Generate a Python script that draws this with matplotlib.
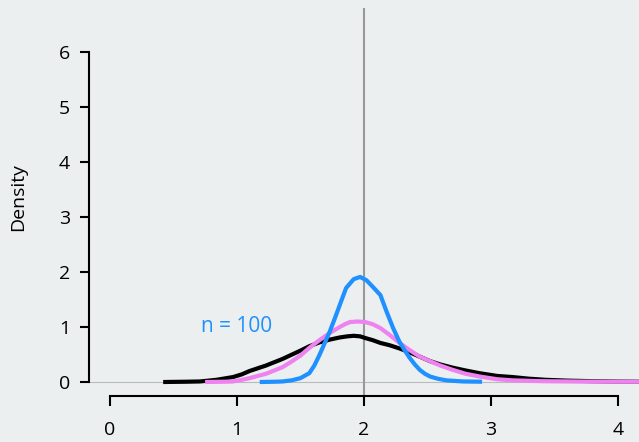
import numpy as np
import matplotlib.pyplot as plt

# densities
black_x = [0.42, 0.60, 0.71, 0.84, 0.97, 1.04, 1.10, 1.23, 1.36, 1.50, 1.57, 1.65, 1.73, 1.81,
           1.87, 1.92, 1.97, 2.01, 2.07, 2.13, 2.20, 2.28, 2.36, 2.44, 2.52, 2.60, 2.70, 2.80,
           2.91, 3.05, 3.17, 3.30, 3.43, 3.60, 3.80, 4.00, 4.17]
black_y = [0.00, 0.005, 0.01, 0.04, 0.09, 0.14, 0.20, 0.30, 0.42, 0.57, 0.65, 0.72, 0.77, 0.81,
           0.83, 0.84, 0.83, 0.80, 0.76, 0.71, 0.67, 0.61, 0.54, 0.46, 0.38, 0.32, 0.26, 0.21,
           0.16, 0.11, 0.09, 0.06, 0.04, 0.025, 0.015, 0.008, 0.005]

pink_x = [0.75, 0.90, 0.97, 1.04, 1.10, 1.23, 1.36, 1.43, 1.50, 1.57, 1.65, 1.73, 1.81, 1.85,
          1.89, 1.95, 2.01, 2.07, 2.13, 2.20, 2.28, 2.36, 2.44, 2.52, 2.60, 2.70, 2.80, 2.91,
          3.05, 3.17, 3.40, 3.70, 4.00, 4.17]
pink_y = [0.00, 0.005, 0.01, 0.04, 0.07, 0.15, 0.27, 0.37, 0.48, 0.62, 0.76, 0.89, 1.00, 1.05,
          1.09, 1.10, 1.09, 1.05, 0.98, 0.86, 0.71, 0.58, 0.46, 0.38, 0.30, 0.22, 0.15, 0.10,
          0.05, 0.03, 0.015, 0.008, 0.005, 0.004]

blue_x = [1.18, 1.30, 1.36, 1.43, 1.50, 1.57, 1.61, 1.65, 1.69, 1.73, 1.77, 1.81, 1.86, 1.92,
          1.97, 2.02, 2.07, 2.13, 2.18, 2.23, 2.28, 2.32, 2.36, 2.40, 2.44, 2.48, 2.52, 2.58,
          2.65, 2.78, 2.93]
blue_y = [0.00, 0.005, 0.01, 0.03, 0.07, 0.16, 0.30, 0.49, 0.70, 0.91, 1.15, 1.40, 1.71, 1.87,
          1.91, 1.85, 1.73, 1.58, 1.27, 0.98, 0.73, 0.58, 0.44, 0.32, 0.22, 0.15, 0.10, 0.06,
          0.03, 0.01, 0.005]

true_mean = 2
yticks = [0, 1, 2, 3, 4, 5, 6]
xticks = [0, 1, 2, 3, 4]

plt.rcParams['font.family'] = ['Open Sans', 'DejaVu Sans']
bg = '#ECEFF0'

fig = plt.figure(figsize=(6.39, 4.42), dpi=100, facecolor=bg)
ax = fig.add_axes([0.139, 0.104, 0.861, 0.878], facecolor=bg)

ax.axhline(0, color='#BBBBBB', lw=0.8, zorder=1)
ax.axvline(true_mean, color='#999999', lw=1.5, zorder=1)

ax.plot(black_x, black_y, color='black', lw=3, solid_capstyle='butt', solid_joinstyle='round', zorder=3)
ax.plot(pink_x, pink_y, color='violet', lw=3, solid_capstyle='butt', solid_joinstyle='round', zorder=4)
ax.plot(blue_x, blue_y, color='#1E90FF', lw=3, solid_capstyle='butt', solid_joinstyle='round', zorder=5)

ax.text(1, 1, 'n = 100', color='#1E90FF', fontsize=15, ha='center', va='center')

ax.set_xlim(-0.165, 4.165)
ax.set_ylim(-0.255, 6.8)

for s in ['top', 'right']:
    ax.spines[s].set_visible(False)
ax.spines['left'].set_bounds(0, 6)
ax.spines['bottom'].set_bounds(0, 4)
ax.spines['left'].set_linewidth(1.5)
ax.spines['bottom'].set_linewidth(1.5)

ax.set_yticks(yticks)
ax.set_xticks(xticks)
ax.tick_params(axis='y', length=6.5, width=1.5, pad=7, labelsize=14)
ax.tick_params(axis='x', length=7, width=1.5, pad=11, labelsize=14)

ax.set_ylabel('Density', fontsize=14)
ax.yaxis.set_label_coords(-0.113, 0.513)

fig.savefig('out.png', dpi=100, facecolor=bg)
